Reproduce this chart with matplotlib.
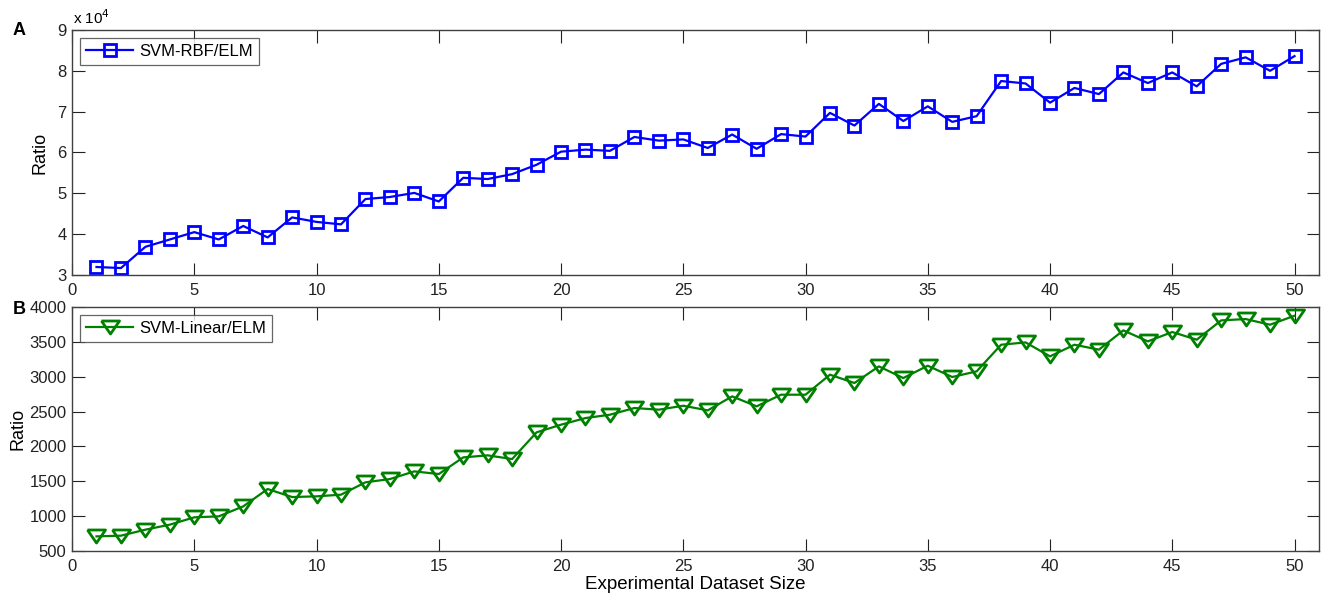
import numpy as np
import matplotlib.pyplot as plt
from matplotlib.ticker import FuncFormatter

plt.rcParams['font.family'] = ['Liberation Sans', 'DejaVu Sans']

# === data ===
sizes = np.arange(1, 51)
rbf_ratio = [31960, 31700, 36900, 38700, 40500, 38700, 42000, 39200, 44100, 43000,
             42400, 48600, 49100, 50100, 48000, 53800, 53500, 54700, 57000, 60200,
             60700, 60400, 63800, 62900, 63200, 61100, 64400, 60900, 64500, 63900,
             69700, 66600, 71900, 67700, 71300, 67500, 68900, 77500, 76900, 72200,
             75800, 74300, 79600, 77000, 79600, 76200, 81700, 83300, 80000, 83600]
linear_ratio = [710, 720, 806, 878, 983, 997, 1140, 1389, 1274, 1284,
                1308, 1485, 1532, 1642, 1604, 1843, 1872, 1819, 2202, 2312,
                2407, 2455, 2551, 2527, 2584, 2517, 2718, 2575, 2742, 2742,
                3029, 2910, 3148, 2981, 3158, 2996, 3077, 3459, 3492, 3292,
                3459, 3388, 3665, 3507, 3641, 3531, 3808, 3827, 3746, 3875]

xticks = [0, 5, 10, 15, 20, 25, 30, 35, 40, 45, 50]
ax_col = '#404040'
# MATLAB-like flat down triangle
tri = [(-1, 0.72), (1, 0.72), (0, -0.72), (-1, 0.72)]

fig = plt.figure(figsize=(13.22, 5.96), dpi=100)
ax1 = fig.add_axes([0.0545, 0.5386, 0.9432, 0.4111])
ax2 = fig.add_axes([0.0545, 0.0755, 0.9432, 0.4094])


def style(ax):
    ax.set_xlim(0, 51)
    ax.set_xticks(xticks)
    ax.tick_params(direction='in', length=9, width=0.8, top=True, right=True,
                   labelsize=12, colors='#222222')
    ax.tick_params(axis='x', pad=6)
    ax.tick_params(axis='y', pad=4)
    for s in ax.spines.values():
        s.set_color(ax_col)
        s.set_linewidth(1.0)


# --- A ---
ax1.plot(sizes, rbf_ratio, color='#0000ff', lw=1.6, marker='s', ms=8.5,
         mfc='none', mew=2.0, label='SVM-RBF/ELM')
ax1.set_ylim(30000, 90000)
ax1.set_yticks(np.arange(30000, 90001, 10000))
ax1.yaxis.set_major_formatter(FuncFormatter(lambda v, p: '%d' % round(v / 1e4)))
ax1.set_ylabel('Ratio', fontsize=13, labelpad=6)
style(ax1)
ax1.legend(loc='upper left', fontsize=12, frameon=True, fancybox=False,
           edgecolor=ax_col, handlelength=2.8, borderaxespad=0.5,
           borderpad=0.35, handletextpad=0.4).get_frame().set_linewidth(0.9)
fig.text(0.0555, 0.955, r'x 10$^4$', fontsize=11, ha='left', va='bottom')
fig.text(0.0098, 0.948, 'A', fontsize=13, fontweight='bold', va='center')

# --- B ---
ax2.plot(sizes, linear_ratio, color='#008000', lw=1.6, marker=tri, ms=13,
         mfc='none', mew=2.0, label='SVM-Linear/ELM')
ax2.set_ylim(500, 4000)
ax2.set_yticks(np.arange(500, 4001, 500))
ax2.set_xlabel('Experimental Dataset Size', fontsize=13.5, labelpad=1)
ax2.set_ylabel('Ratio', fontsize=13, labelpad=2)
style(ax2)
ax2.legend(loc='upper left', fontsize=12, frameon=True, fancybox=False,
           edgecolor=ax_col, handlelength=2.8, borderaxespad=0.5,
           borderpad=0.35, handletextpad=0.4).get_frame().set_linewidth(0.9)
fig.text(0.0098, 0.4815, 'B', fontsize=13, fontweight='bold', va='center')

fig.savefig('out.png', dpi=100)
